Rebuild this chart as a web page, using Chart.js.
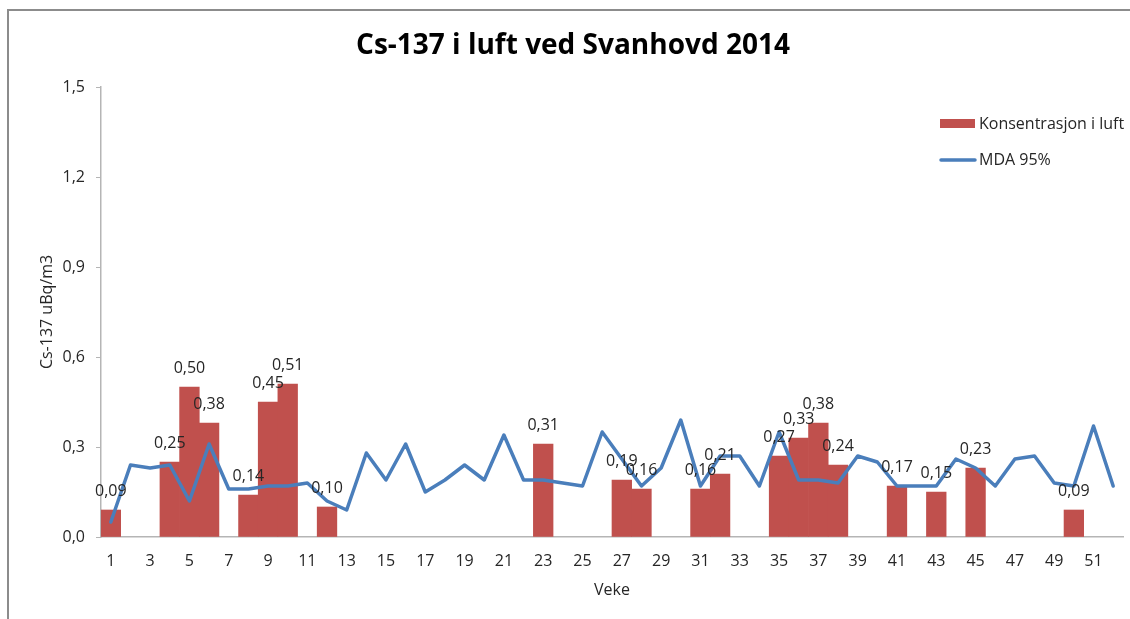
<!DOCTYPE html>
<html>
<head>
<meta charset="utf-8">
<title>Cs-137 i luft ved Svanhovd 2014</title>
<script src="https://cdn.jsdelivr.net/npm/chart.js@4/dist/chart.umd.min.js"></script>
<style>
    html, body { margin: 0; padding: 0; background: #fff; }
    #wrap { width: 1130px; height: 619px; }
</style>
</head>
<body>
<div id="wrap"><canvas id="cs137" width="1130" height="619"></canvas></div>
<script>
"use strict";

// week numbers on the category axis
var weeks = [1, 2, 3, 4, 5, 6, 7, 8, 9, 10, 11, 12, 13, 14, 15, 16, 17, 18, 19, 20,
    21, 22, 23, 24, 25, 26, 27, 28, 29, 30, 31, 32, 33, 34, 35, 36, 37, 38, 39, 40,
    41, 42, 43, 44, 45, 46, 47, 48, 49, 50, 51, 52];

// measured concentration (null = below detection, no bar)
var konsentrasjon = [0.09, null, null, 0.25, 0.50, 0.38, null, 0.14, 0.45, 0.51,
    null, 0.10, null, null, null, null, null, null, null, null,
    null, null, 0.31, null, null, null, 0.19, 0.16, null, null,
    0.16, 0.21, null, null, 0.27, 0.33, 0.38, 0.24, null, null,
    0.17, null, 0.15, null, 0.23, null, null, null, null, 0.09,
    null, null];

// minimum detectable activity, 95%
var mda95 = [0.05, 0.24, 0.23, 0.24, 0.12, 0.31, 0.16, 0.16, 0.17, 0.17,
    0.18, 0.12, 0.09, 0.28, 0.19, 0.31, 0.15, 0.19, 0.24, 0.19,
    0.34, 0.19, 0.19, 0.18, 0.17, 0.35, 0.26, 0.17, 0.23, 0.39,
    0.17, 0.27, 0.27, 0.17, 0.35, 0.19, 0.19, 0.18, 0.27, 0.25,
    0.17, 0.17, 0.17, 0.26, 0.23, 0.17, 0.26, 0.27, 0.18, 0.17,
    0.37, 0.17];

var yTicks = [0, 0.3, 0.6, 0.9, 1.2, 1.5];

var TITLE = "Cs-137 i luft ved Svanhovd 2014";
var FONT = "'Open Sans', 'DejaVu Sans', sans-serif";
var TEXT = "#262626";
var AXIS = "#b5b5b5";
var RED = "#c0504d";
var BLUE = "#4a7ebb";

function komma(v, d) {
    return v.toFixed(d).replace(".", ",");
}

// gray frame round the whole chart, plus the heading
var frame = {
    id: "frame",
    beforeDraw: function(chart) {
        var ctx = chart.ctx;
        ctx.save();
        ctx.strokeStyle = "#8c8c8c";
        ctx.lineWidth = 2;
        ctx.strokeRect(8, 10, 1140, 640);
        ctx.font = "bold 28px " + FONT;
        ctx.fillStyle = "#000";
        ctx.textAlign = "center";
        ctx.textBaseline = "middle";
        ctx.fillText(TITLE, 573, 46);
        ctx.restore();
    }
};

// value labels over the bars
var barLabels = {
    id: "barLabels",
    afterDatasetsDraw: function(chart) {
        var ctx = chart.ctx,
            meta = chart.getDatasetMeta(0);
        ctx.save();
        ctx.font = "16px " + FONT;
        ctx.fillStyle = TEXT;
        ctx.textAlign = "center";
        ctx.textBaseline = "middle";
        meta.data.forEach(function(bar, i) {
            var v = konsentrasjon[i];
            if (v === null) return;
            ctx.fillText(komma(v, 2), bar.x, bar.y - 19);
        });
        ctx.restore();
    }
};

// legend sits inside the plot, top right
var sideLegend = {
    id: "sideLegend",
    afterDraw: function(chart) {
        var ctx = chart.ctx,
            ds = chart.data.datasets;
        ctx.save();
        ctx.font = "16px " + FONT;
        ctx.textBaseline = "middle";
        ctx.textAlign = "left";

        ctx.fillStyle = ds[0].backgroundColor;
        ctx.fillRect(940, 119, 35, 9);
        ctx.fillStyle = TEXT;
        ctx.fillText(ds[0].label, 979, 124);

        ctx.strokeStyle = ds[1].borderColor;
        ctx.lineWidth = 3.5;
        ctx.lineCap = "round";
        ctx.beginPath();
        ctx.moveTo(941, 160);
        ctx.lineTo(975, 160);
        ctx.stroke();
        ctx.fillText(ds[1].label, 979, 160);
        ctx.restore();
    }
};

var chart = new Chart(document.getElementById("cs137").getContext("2d"), {
    data: {
        labels: weeks,
        datasets: [{
            type: "bar",
            label: "Konsentrasjon i luft",
            data: konsentrasjon,
            backgroundColor: RED,
            borderWidth: 0,
            barPercentage: 1,
            categoryPercentage: 1,
            order: 1
        }, {
            type: "line",
            label: "MDA 95%",
            data: mda95,
            borderColor: BLUE,
            backgroundColor: BLUE,
            borderWidth: 3.5,
            borderJoinStyle: "round",
            borderCapStyle: "round",
            tension: 0,
            pointRadius: 0,
            pointHoverRadius: 0,
            fill: false,
            order: 0
        }]
    },
    options: {
        responsive: false,
        animation: false,
        layout: {
            padding: { left: 0, right: 7, top: 87, bottom: 0 }
        },
        plugins: {
            legend: { display: false },
            tooltip: { enabled: false },
            title: { display: false }
        },
        scales: {
            x: {
                offset: true,
                grid: { display: true, drawOnChartArea: false, drawTicks: false },
                border: { display: true, color: AXIS, width: 1.5 },
                ticks: {
                    color: TEXT,
                    font: { family: FONT, size: 16 },
                    padding: 15,
                    autoSkip: false,
                    maxRotation: 0,
                    callback: function(val, index) {
                        return index % 2 === 0 ? this.getLabelForValue(val) : "";
                    }
                },
                title: {
                    display: true,
                    text: "Veke",
                    color: TEXT,
                    font: { family: FONT, size: 16 },
                    padding: { top: 0, bottom: 19 }
                },
                afterFit: function(scale) { scale.height = 82; }
            },
            y: {
                min: 0,
                max: 1.5,
                afterBuildTicks: function(scale) {
                    scale.ticks = yTicks.map(function(v) { return { value: v }; });
                },
                grid: { drawOnChartArea: false, drawTicks: true, tickLength: 5, color: AXIS },
                border: { display: true, color: AXIS, width: 1.5 },
                ticks: {
                    color: TEXT,
                    font: { family: FONT, size: 16 },
                    padding: 11,
                    callback: function(v) { return komma(v, 1); }
                },
                title: {
                    display: true,
                    text: "Cs-137 uBq/m3",
                    color: TEXT,
                    font: { family: FONT, size: 16 },
                    padding: { top: 38, bottom: 0 }
                },
                afterFit: function(scale) { scale.width = 101; }
            }
        }
    },
    plugins: [frame, barLabels, sideLegend]
});
</script>
</body>
</html>
